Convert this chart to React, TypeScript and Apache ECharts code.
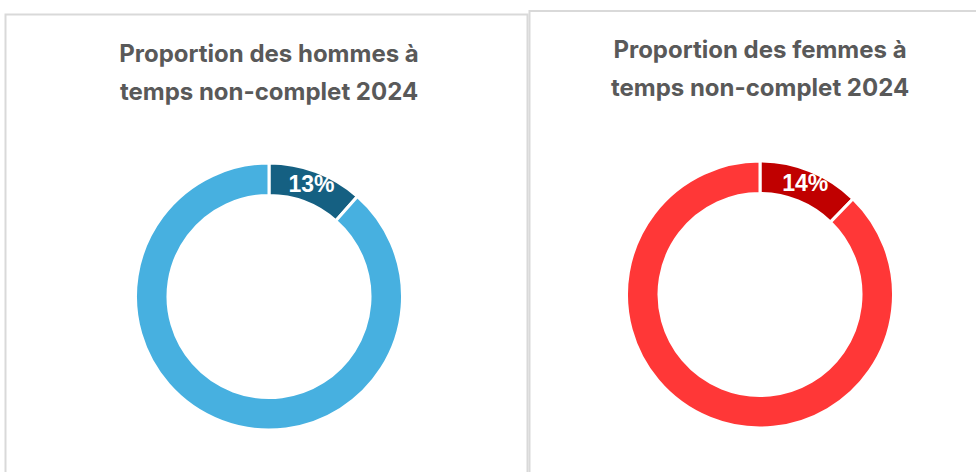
import React, { useEffect, useRef } from "react";
import * as echarts from "echarts";

const titlesHommes = ["Proportion des hommes à", "temps non-complet 2024"];
const titlesFemmes = ["Proportion des femmes à", "temps non-complet 2024"];
const categories = ["Temps non-complet", "Référence"];
const hommesValues = [13, 100];
const femmesValues = [14, 100];

const FONT = "Inter, 'Open Sans', sans-serif";
const LABEL_FONT = "'Liberation Sans', Arial, sans-serif";

export default function App() {
  const ref = useRef<HTMLDivElement>(null);
  useEffect(() => {
    if (!ref.current) return;
    const chart = echarts.init(ref.current, null, { renderer: "svg" });
    const mkSeries = (values: number[], colors: string[], center: number[]) => ({
      type: "pie",
      center,
      radius: [101, 133.5],
      startAngle: 90,
      clockwise: true,
      silent: true,
      avoidLabelOverlap: false,
      labelLine: { show: false },
      itemStyle: { borderColor: "#ffffff", borderWidth: 3 },
      data: values.map((v, i) => ({
        name: categories[i],
        value: v,
        itemStyle: { color: colors[i] },
        label:
          i === 0
            ? {
                show: true,
                position: "inside",
                formatter: "{c}%",
                color: "#ffffff",
                fontFamily: LABEL_FONT,
                fontWeight: "bold",
                fontSize: 23,
              }
            : { show: false },
      })),
    });
    const titleText = (lines: string[], x: number, y0: number) =>
      lines.map((t, i) => ({
        type: "text",
        x,
        y: y0 + i * 38,
        style: {
          text: t,
          fill: "#595959",
          font: `bold 24px ${FONT}`,
          textAlign: "center",
          textVerticalAlign: "middle",
        },
      }));
    chart.setOption({
      animation: false,
      backgroundColor: "#ffffff",
      graphic: [
        {
          type: "rect",
          shape: { x: 5.5, y: 14.5, width: 522, height: 480 },
          style: { fill: "#ffffff", stroke: "#D9D9D9", lineWidth: 2 },
          z: -10,
        },
        {
          type: "rect",
          shape: { x: 529.5, y: 11, width: 480, height: 480 },
          style: { fill: "#ffffff", stroke: "#D9D9D9", lineWidth: 2 },
          z: -10,
        },
        ...titleText(titlesHommes, 269, 53),
        ...titleText(titlesFemmes, 760, 49),
      ],
      series: [
        mkSeries(hommesValues, ["#156082", "#47B0E0"], [269, 296.5]),
        mkSeries(femmesValues, ["#C00000", "#FF3737"], [760, 294.5]),
      ],
    });
    return () => chart.dispose();
  }, []);
  return (
    <div
      ref={ref}
      style={{ position: "fixed", left: 0, top: 0, width: 976, height: 472 }}
    />
  );
}
